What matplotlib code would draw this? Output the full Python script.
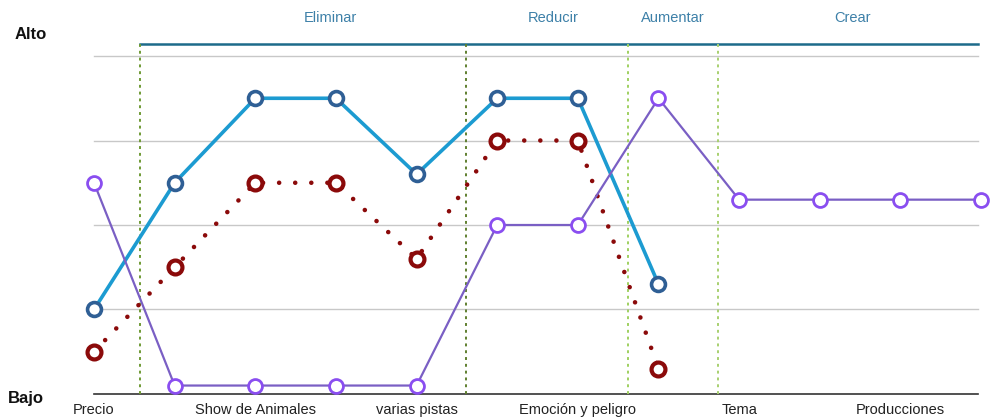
import matplotlib
matplotlib.use("Agg")
import matplotlib.pyplot as plt

plt.rcParams['font.family'] = ['Liberation Sans', 'DejaVu Sans']

# Twelve factor positions along the value curve
positions = list(range(12))
tick_labels = ["Precio", "", "Show de Animales", "", "varias pistas", "",
               "Emoción y peligro", "", "Tema", "", "Producciones", ""]

# Levels (0 = Bajo, 4 = Alto)
serie_azul = [1.0, 2.5, 3.5, 3.5, 2.6, 3.5, 3.5, 1.3]
serie_roja = [0.5, 1.5, 2.5, 2.5, 1.6, 3.0, 3.0, 0.3]
serie_violeta = [2.5, 0.1, 0.1, 0.1, 0.1, 2.0, 2.0, 3.5, 2.3, 2.3, 2.3, 2.3]

# Action groups: name, label x, boundary lines
grupos = ["Eliminar", "Reducir", "Aumentar", "Crear"]
grupo_x = [2.93, 5.69, 7.18, 9.41]
divisiones = [0.57, 4.61, 6.62, 7.74]
nivel_acciones = 4.14

fig = plt.figure(figsize=(9.92, 4.19), dpi=100)
ax = fig.add_axes([0, 0, 1, 1])
ax.set_xlim(-1.166, 11.136)
ax.set_ylim(-0.296, 4.663)
ax.axis("off")

# horizontal grid
for lvl in [1, 2, 3, 4]:
    ax.plot([0, 10.96], [lvl, lvl], color="#c8c8c8", lw=1.0, zorder=1)
ax.plot([0, 10.96], [0, 0], color="#333333", lw=1.2, zorder=1)

# top action bar and dividers
ax.plot([divisiones[0], 10.96], [nivel_acciones, nivel_acciones],
        color="#1d6b8a", lw=1.8, zorder=2)
div_colors = ["#6f9a35", "#5f7f2f", "#9fd060", "#a8d070"]
for xd, c in zip(divisiones, div_colors):
    ax.plot([xd, xd], [0, nivel_acciones], color=c, lw=1.4,
            ls=(0, (1.5, 2.0)), zorder=2)

for name, gx in zip(grupos, grupo_x):
    ax.text(gx, 4.452, name, ha="center", va="center", fontsize=10.5,
            color="#3d80a8")

# series
ax.plot(positions[:len(serie_azul)], serie_azul, color="#1c9bd1", lw=2.6,
        marker="o", ms=10, mfc="white", mec="#2f5f95", mew=2.6, zorder=3)
ax.plot(positions[:len(serie_roja)], serie_roja, color="#8b0a0a", lw=3.3,
        ls=(0, (0.01, 3.5)), dash_capstyle="round", zorder=4)
ax.plot(positions[:len(serie_roja)], serie_roja, ls="none",
        marker="o", ms=10, mfc="white", mec="#8b0a0a", mew=3.0, zorder=4)
ax.plot(positions, serie_violeta, color="#7a5fc4", lw=1.6,
        marker="o", ms=10, mfc="white", mec="#8a4ef0", mew=2.0, zorder=5)

# x labels
for p, lab in zip(positions, tick_labels):
    if lab:
        ax.text(p, -0.19, lab, ha="center", va="center", fontsize=10.5,
                color="#222222")

ax.text(-0.79, 4.26, "Alto", ha="center", va="center", fontsize=12,
        fontweight="bold", color="#111111")
ax.text(-0.84, -0.05, "Bajo", ha="center", va="center", fontsize=12,
        fontweight="bold", color="#111111")

fig.savefig("out.png", dpi=100)
